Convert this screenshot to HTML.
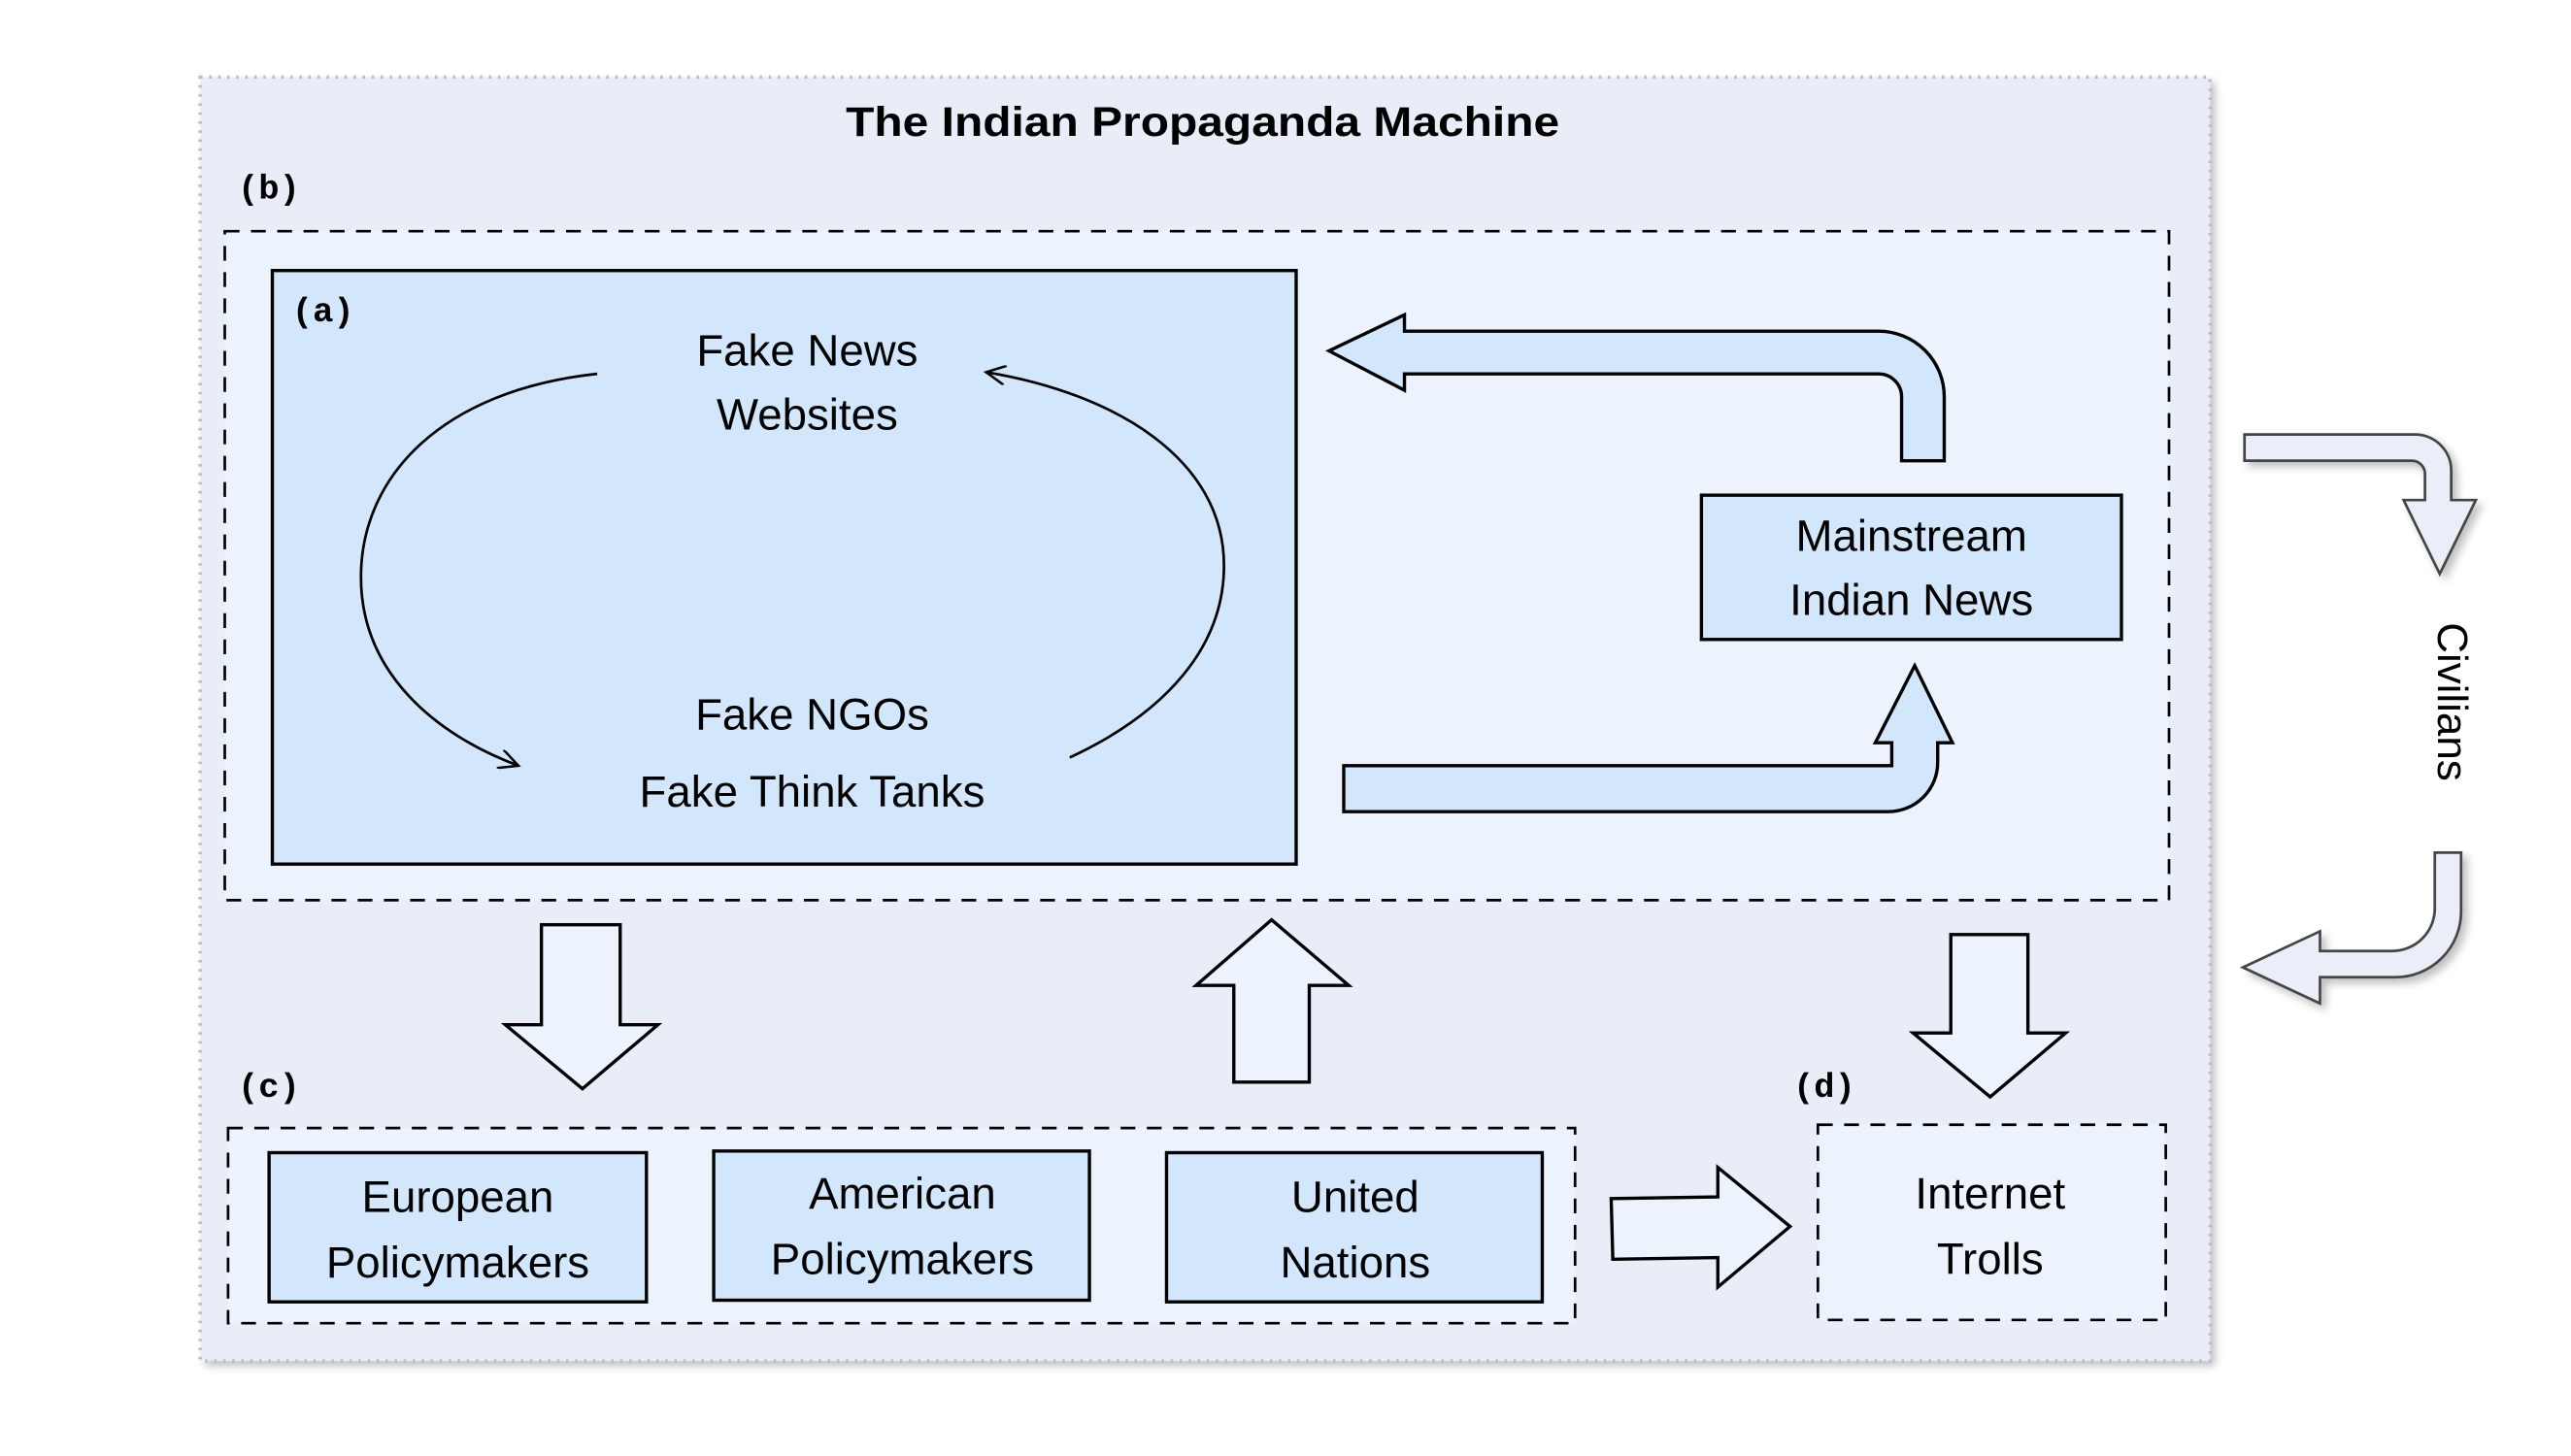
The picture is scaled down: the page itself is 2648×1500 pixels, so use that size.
<!DOCTYPE html>
<html><head><meta charset="utf-8"><style>html,body{margin:0;padding:0;background:#fff}svg{display:block}</style></head>
<body>
<svg width="2648" height="1500" viewBox="0 0 1567 888" preserveAspectRatio="none" xmlns="http://www.w3.org/2000/svg" font-family="Liberation Sans, Arial, sans-serif">
<defs>
<filter id="sh" x="-10%" y="-10%" width="130%" height="130%"><feDropShadow dx="3" dy="3" stdDeviation="2.5" flood-color="#000" flood-opacity="0.25"/></filter>
<marker id="ah" markerWidth="14" markerHeight="12" refX="12" refY="6" orient="auto" markerUnits="userSpaceOnUse"><path d="M0,0 L12,6 L0,12" fill="none" stroke="#000" stroke-width="1.5"/></marker>
</defs>
<rect x="0" y="0" width="1567" height="888" fill="#fff"/>
<rect x="122" y="47" width="1225" height="783" fill="#e9edf7" filter="url(#sh)"/>
<rect x="122" y="47" width="1225" height="783" fill="none" stroke="#b8bcc4" stroke-width="2" stroke-dasharray="1.5,4"/>
<text x="733" y="83" text-anchor="middle" font-weight="bold" font-size="25" textLength="435" lengthAdjust="spacingAndGlyphs">The Indian Propaganda Machine</text>
<text x="145" y="121" font-family="Liberation Mono, monospace" font-weight="bold" font-size="21">(b)</text>
<rect x="137" y="141" width="1185" height="408" fill="#edf3fd" stroke="#000" stroke-width="1.6" stroke-dasharray="9,7"/>
<rect x="166" y="165" width="624" height="362" fill="#d2e6fc" stroke="#000" stroke-width="2"/>
<text x="178" y="196" font-family="Liberation Mono, monospace" font-weight="bold" font-size="21">(a)</text>
<g font-size="27" text-anchor="middle">
<text x="492" y="223">Fake News</text>
<text x="492" y="262">Websites</text>
<text x="495" y="445">Fake NGOs</text>
<text x="495" y="492">Fake Think Tanks</text>
</g>
<path d="M364,228 C270,238 220,290 220,352 C220,410 265,448 316,467" fill="none" stroke="#000" stroke-width="1.6" marker-end="url(#ah)"/>
<path d="M652,462 C710,435 746,395 746,345 C746,280 680,240 601,227" fill="none" stroke="#000" stroke-width="1.6" marker-end="url(#ah)"/>
<rect x="1037" y="302" width="256" height="88" fill="#d2e6fc" stroke="#000" stroke-width="2"/>
<text x="1165" y="336" font-size="27" text-anchor="middle">Mainstream</text>
<text x="1165" y="375" font-size="27" text-anchor="middle">Indian News</text>
<path d="M1185,281 L1185,242 A40,40 0 0 0 1145,202 L856,202 L856,192 L810,214 L856,238 L856,228 L1145,228 A14,14 0 0 1 1159,242 L1159,281 Z" fill="#d2e6fc" stroke="#000" stroke-width="2"/>
<path d="M819,467 L1153,467 L1153,453 L1143,453 L1167,406 L1190,453 L1181,453 L1181,465 A30,30 0 0 1 1151,495 L819,495 Z" fill="#d2e6fc" stroke="#000" stroke-width="2"/>
<g filter="url(#sh)" fill="#e9eef8" stroke="#444" stroke-width="1.6">
<path d="M1368,265 L1472,265 A22,22 0 0 1 1494,287 L1494,305 L1509,305 L1487,350 L1465,305 L1478,305 L1478,289 A8,8 0 0 0 1470,281 L1368,281 Z"/>
<path d="M1484,520 L1500,520 L1500,556 A40,40 0 0 1 1460,596 L1414,596 L1414,612 L1367,590 L1414,568 L1414,580 L1458,580 A26,26 0 0 0 1484,554 Z"/>
</g>
<text transform="translate(1486,428) rotate(90)" font-size="26" text-anchor="middle">Civilians</text>
<path d="M330,564 L378,564 L378,625 L401,625 L355,664 L308,625 L330,625 Z" fill="#edf3fd" stroke="#000" stroke-width="2"/>
<path d="M752,660 L798,660 L798,601 L822,601 L775,561 L729,601 L752,601 Z" fill="#edf3fd" stroke="#000" stroke-width="2"/>
<path d="M1189,570 L1236,570 L1236,630 L1259,630 L1213,669 L1166,630 L1189,630 Z" fill="#edf3fd" stroke="#000" stroke-width="2"/>
<path d="M982,731 L1047,730 L1047,712 L1091,748 L1047,785 L1047,767 L983,768 Z" fill="#edf3fd" stroke="#000" stroke-width="2"/>
<text x="145" y="669" font-family="Liberation Mono, monospace" font-weight="bold" font-size="21">(c)</text>
<rect x="139" y="688" width="821" height="119" fill="#edf3fd" stroke="#000" stroke-width="1.6" stroke-dasharray="9,7"/>
<g fill="#d2e6fc" stroke="#000" stroke-width="2">
<rect x="164" y="703" width="230" height="91"/>
<rect x="435" y="702" width="229" height="91"/>
<rect x="711" y="703" width="229" height="91"/>
</g>
<g font-size="27" text-anchor="middle">
<text x="279" y="739">European</text>
<text x="279" y="779">Policymakers</text>
<text x="550" y="737">American</text>
<text x="550" y="777">Policymakers</text>
<text x="826" y="739">United</text>
<text x="826" y="779">Nations</text>
</g>
<text x="1093" y="669" font-family="Liberation Mono, monospace" font-weight="bold" font-size="21">(d)</text>
<rect x="1108" y="686" width="212" height="119" fill="#edf3fd" stroke="#000" stroke-width="1.6" stroke-dasharray="9,7"/>
<text x="1213" y="737" font-size="27" text-anchor="middle">Internet</text>
<text x="1213" y="777" font-size="27" text-anchor="middle">Trolls</text>
</svg>
</body></html>
